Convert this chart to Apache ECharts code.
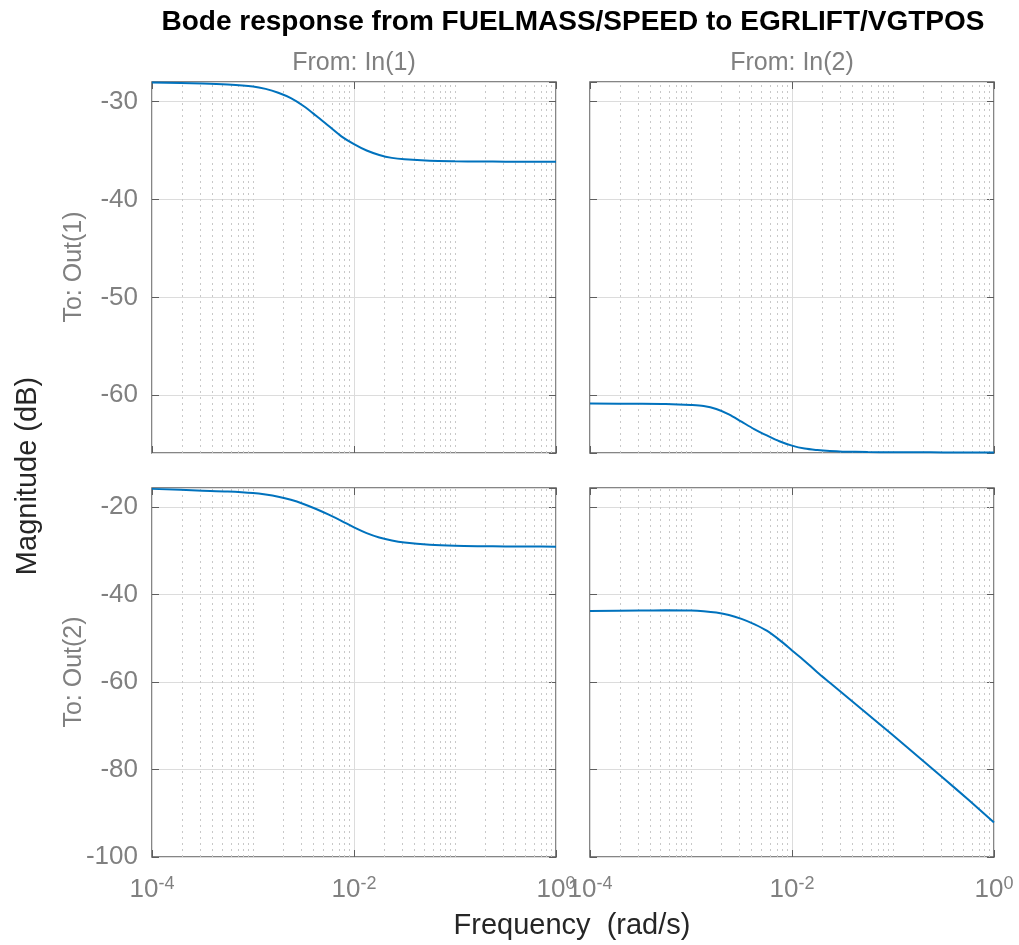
<!DOCTYPE html>
<html><head><meta charset="utf-8">
<script src="https://cdn.jsdelivr.net/npm/echarts@6/dist/echarts.min.js"></script>
<style>html,body{margin:0;padding:0;background:#fff}#c{width:1019px;height:945px}</style>
</head><body><div id="c"></div>
<script>
// frequency grid as log10(rad/s)
const freqExp = [-4, -3.5, -3.25, -3, -2.875, -2.75, -2.625, -2.5, -2.375, -2.25, -2.125, -2, -1.875, -1.75, -1.625, -1.5, -1.25, -1, -0.75, -0.5, -0.25, 0];
const magOut1In1 = [-28.05, -28.15, -28.25, -28.45, -28.7, -29.1, -29.65, -30.45, -31.45, -32.5, -33.55, -34.35, -35.0, -35.45, -35.75, -35.9, -36.05, -36.1, -36.12, -36.14, -36.15, -36.15];
const magOut1In2 = [-60.85, -60.87, -60.9, -61.0, -61.1, -61.4, -61.95, -62.7, -63.45, -64.1, -64.7, -65.15, -65.45, -65.6, -65.7, -65.76, -65.8, -65.82, -65.83, -65.84, -65.84, -65.84];
const magOut2In1 = [-15.9, -16.3, -16.5, -16.85, -17.2, -17.7, -18.4, -19.35, -20.5, -21.8, -23.2, -24.7, -26.0, -27.0, -27.7, -28.15, -28.65, -28.9, -29.0, -29.05, -29.08, -29.1];
const magOut2In2 = [-43.8, -43.7, -43.65, -43.7, -43.85, -44.15, -44.7, -45.6, -46.8, -48.3, -50.4, -52.8, -55.2, -57.8, -60.2, -62.6, -67.4, -72.2, -77.1, -82.0, -87.0, -92.1];
const titleText = 'Bode response from FUELMASS/SPEED to EGRLIFT/VGTPOS';
const colTitles = ['From: In(1)', 'From: In(2)'];
const rowTitles = ['To: Out(1)', 'To: Out(2)'];
const rowRanges = [[-65.9, -28], [-100, -15.7]];

const FONT = 'Liberation Sans, Arial, Helvetica, sans-serif';
const GRAY = '#808080';
const BOX = '#5e5e5e';

// minor log grid positions (2..9 per decade, plus odd decades)
const minorPos = [];
for (let d = -4; d < 0; d++) {
  for (let k = 1; k <= 9; k++) {
    const v = d + Math.log10(k);
    if (k === 1 && d % 2 === 0) continue;
    minorPos.push(v);
  }
}

const grids = [
  {left: 152, top: 82, width: 404, height: 371},
  {left: 590, top: 82, width: 404, height: 371},
  {left: 152, top: 488, width: 404, height: 369},
  {left: 590, top: 488, width: 404, height: 369}
];
const datasets = [magOut1In1, magOut1In2, magOut2In1, magOut2In2];

const tickStyle = {show: true, inside: true, length: 7, lineStyle: {color: BOX, width: 1}};
const xAxes = [], yAxes = [], series = [];
grids.forEach((g, i) => {
  g.show = true; g.borderColor = BOX; g.borderWidth = 1.5; g.containLabel = false;
  const row = Math.floor(i / 2), col = i % 2;
  const r = rowRanges[row];
  xAxes.push({
    type: 'value', gridIndex: i, min: -4, max: 0, interval: 2, position: 'bottom',
    axisLine: {show: false, onZero: false},
    axisTick: tickStyle,
    splitLine: {show: true, lineStyle: {color: '#dcdcdc', width: 1}},
    axisLabel: {
      show: row === 1, margin: 18,
      formatter: v => '{b|10}{s|' + v + '}',
      rich: {
        b: {fontSize: 26, color: GRAY, fontFamily: FONT, lineHeight: 30},
        s: {fontSize: 18, color: GRAY, fontFamily: FONT, verticalAlign: 'top', lineHeight: 30, padding: [0, 0, 16, 0]}
      }
    }
  });
  yAxes.push({
    type: 'value', gridIndex: i, min: r[0], max: r[1], splitNumber: 5, position: 'left',
    axisLine: {show: false, onZero: false},
    axisTick: tickStyle,
    splitLine: {show: true, lineStyle: {color: '#dcdcdc', width: 1}},
    axisLabel: {
      show: col === 0, margin: 14, fontSize: 26, color: GRAY, fontFamily: FONT,
      showMinLabel: row === 1, showMaxLabel: false
    }
  });
  series.push({
    type: 'line', xAxisIndex: i, yAxisIndex: i,
    data: freqExp.map((x, j) => [x, datasets[i][j]]),
    smooth: 0.3, symbol: 'none', clip: true,
    lineStyle: {color: '#0072BD', width: 2},
    markLine: {
      silent: true, symbol: 'none', animation: false,
      label: {show: false},
      lineStyle: {color: '#c8c8c8', type: [2, 4], width: 1},
      data: minorPos.map(v => ({xAxis: v}))
    },
    z: 5
  });
});
// mirrored tick axes (top / right), MATLAB box style
grids.forEach((g, i) => {
  const row = Math.floor(i / 2);
  const r = rowRanges[row];
  xAxes.push({
    type: 'value', gridIndex: i, min: -4, max: 0, interval: 2, position: 'top',
    axisLine: {show: false, onZero: false}, axisTick: tickStyle,
    splitLine: {show: false}, axisLabel: {show: false}
  });
  yAxes.push({
    type: 'value', gridIndex: i, min: r[0], max: r[1], splitNumber: 5, position: 'right',
    axisLine: {show: false, onZero: false}, axisTick: tickStyle,
    splitLine: {show: false}, axisLabel: {show: false}
  });
});

const graphic = [
  {type: 'text', style: {text: titleText, font: 'bold 28px ' + FONT, fill: '#000', x: 573, y: 22, textAlign: 'center', textVerticalAlign: 'middle'}},
  {type: 'text', style: {text: colTitles[0], font: '25px ' + FONT, fill: GRAY, x: 354, y: 63, textAlign: 'center', textVerticalAlign: 'middle'}},
  {type: 'text', style: {text: colTitles[1], font: '25px ' + FONT, fill: GRAY, x: 792, y: 63, textAlign: 'center', textVerticalAlign: 'middle'}},
  {type: 'text', x: 74, y: 267, rotation: Math.PI / 2, style: {text: rowTitles[0], font: '25px ' + FONT, fill: GRAY, x: 0, y: 0, textAlign: 'center', textVerticalAlign: 'middle'}},
  {type: 'text', x: 74, y: 672, rotation: Math.PI / 2, style: {text: rowTitles[1], font: '25px ' + FONT, fill: GRAY, x: 0, y: 0, textAlign: 'center', textVerticalAlign: 'middle'}},
  {type: 'text', x: 28, y: 476, rotation: Math.PI / 2, style: {text: 'Magnitude (dB)', font: '29px ' + FONT, fill: '#262626', x: 0, y: 0, textAlign: 'center', textVerticalAlign: 'middle'}},
  {type: 'text', style: {text: 'Frequency  (rad/s)', font: '29px ' + FONT, fill: '#262626', x: 572, y: 926, textAlign: 'center', textVerticalAlign: 'middle'}}
];

const chart = echarts.init(document.getElementById('c'), null, {renderer: 'canvas'});
chart.setOption({
  animation: false,
  backgroundColor: '#fff',
  grid: grids, xAxis: xAxes, yAxis: yAxes, series: series, graphic: graphic
});
</script></body></html>
